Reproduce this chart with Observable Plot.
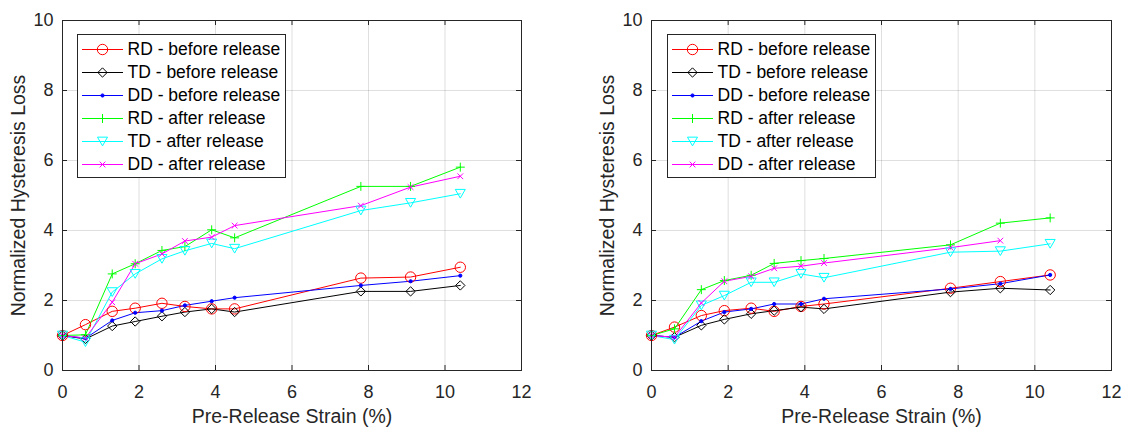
<!DOCTYPE html>
<html><head><meta charset="utf-8">
<script src="https://cdn.jsdelivr.net/npm/d3@7"></script>
<script src="https://cdn.jsdelivr.net/npm/@observablehq/plot@0.6"></script>
<style>
body{margin:0;background:#fff;}
#root{position:relative;width:1124px;height:430px;overflow:hidden;background:#fff;}
.abs{position:absolute;}
</style></head><body><div id="root"></div>
<script>
// ---------- data ----------
const strain = [0, 0.6, 1.3, 1.9, 2.6, 3.2, 3.9, 4.5, 7.8, 9.1, 10.4];
const seriesNames = ["RD - before release", "TD - before release", "DD - before release",
                     "RD - after release", "TD - after release", "DD - after release"];
const xTicks = [0, 2, 4, 6, 8, 10, 12];
const yTicks = [0, 2, 4, 6, 8, 10];
const xLabel = "Pre-Release Strain (%)";
const yLabel = "Normalized Hysteresis Loss";

// left panel
const leftRDBefore = [1.00, 1.31, 1.69, 1.78, 1.92, 1.83, 1.76, 1.76, 2.64, 2.67, 2.95];
const leftTDBefore = [1.00, 0.90, 1.27, 1.40, 1.55, 1.67, 1.76, 1.67, 2.26, 2.26, 2.43];
const leftDDBefore = [1.00, 0.92, 1.43, 1.65, 1.71, 1.86, 1.98, 2.08, 2.43, 2.55, 2.71];
const leftRDAfter  = [1.00, 1.02, 2.76, 3.05, 3.43, 3.54, 4.02, 3.79, 5.26, 5.26, 5.81];
const leftTDAfter  = [1.00, 0.81, 2.24, 2.76, 3.19, 3.42, 3.63, 3.48, 4.57, 4.79, 5.05];
const leftDDAfter  = [1.00, 0.93, 1.95, 3.05, 3.33, 3.70, 3.81, 4.14, 4.71, 5.24, 5.55];

// right panel
const rightRDBefore = [1.00, 1.24, 1.57, 1.71, 1.78, 1.69, 1.83, 1.90, 2.35, 2.54, 2.73];
const rightTDBefore = [1.00, 0.95, 1.29, 1.46, 1.62, 1.71, 1.81, 1.76, 2.24, 2.35, 2.30];
const rightDDBefore = [1.00, 0.95, 1.41, 1.67, 1.76, 1.90, 1.90, 2.05, 2.33, 2.48, 2.73];
const rightRDAfter  = [1.00, 1.19, 2.31, 2.57, 2.72, 3.06, 3.14, 3.20, 3.59, 4.21, 4.36];
const rightTDAfter  = [1.00, 0.88, 1.86, 2.14, 2.52, 2.52, 2.76, 2.65, 3.38, 3.41, 3.62];
const rightDDAfter  = [1.00, 0.95, 1.93, 2.55, 2.69, 2.92, 2.98, 3.07, 3.51, 3.71, null];

// ---------- styles ----------
const FONT = '"Liberation Sans", Arial, Helvetica, sans-serif';
const AXIS_COLOR = "#262626";
const seriesColors = ["#ff0000", "#000000", "#0000ff", "#00ff00", "#00ffff", "#ff00ff"];
const triangleDown = {
  draw(ctx, size) {
    const s = Math.sqrt(size) * 0.6824, u = s * Math.sqrt(3) / 2, h = 1.5 * s;
    ctx.moveTo(0, h / 2);
    ctx.lineTo(-u, -h / 2);
    ctx.lineTo(u, -h / 2);
    ctx.closePath();
  }
};
const seriesStyle = [
  {symbol: "circle", r: 5.2, fill: "none"},
  {symbol: "diamond2", r: 4.2, fill: "none"},
  {symbol: "circle", r: 1.6, fill: "#0000ff"},
  {symbol: "plus", r: 3, fill: "none"},
  {symbol: triangleDown, r: 4.8, fill: "none"},
  {symbol: "times", r: 2.7, fill: "none"}
];

function buildRows(values) {
  const rows = [];
  seriesNames.forEach((name, i) => values[i].forEach((v, j) => {
    if (v != null) rows.push({series: name, strain: strain[j], loss: v});
  }));
  return rows;
}

function panel(values, {width, marginLeft, marginRight}) {
  const H = 430, mt = 20, mb = 60;
  const plotW = width - marginLeft - marginRight, plotH = H - mt - mb;
  const tk = 5;
  const rows = buildRows(values);
  return Plot.plot({
    width, height: H, marginLeft, marginRight, marginTop: mt, marginBottom: mb,
    style: {fontFamily: FONT, fontSize: "18px", color: AXIS_COLOR, background: "white", overflow: "visible"},
    x: {domain: [0, 12], label: null},
    y: {domain: [0, 10], label: null},
    color: {domain: seriesNames, range: seriesColors},
    marks: [
      Plot.gridX(xTicks, {stroke: AXIS_COLOR, strokeOpacity: 0.15}),
      Plot.gridY(yTicks, {stroke: AXIS_COLOR, strokeOpacity: 0.15}),
      Plot.line(rows, {x: "strain", y: "loss", z: "series", stroke: "series", strokeWidth: 1}),
      ...seriesNames.map((name, i) => Plot.dot(rows.filter(d => d.series === name), {
        x: "strain", y: "loss", symbol: seriesStyle[i].symbol, r: seriesStyle[i].r,
        stroke: seriesColors[i], fill: seriesStyle[i].fill, strokeWidth: 1
      })),
      Plot.frame({stroke: AXIS_COLOR, strokeWidth: 1}),
      Plot.tickX(xTicks, {x: d => d, insetTop: plotH - tk, stroke: AXIS_COLOR}),
      Plot.tickX(xTicks, {x: d => d, insetBottom: plotH - tk, stroke: AXIS_COLOR}),
      Plot.tickY(yTicks, {y: d => d, insetRight: plotW - tk, stroke: AXIS_COLOR}),
      Plot.tickY(yTicks, {y: d => d, insetLeft: plotW - tk, stroke: AXIS_COLOR}),
      Plot.axisX(xTicks, {tickSize: 0, tickPadding: 15, label: null, fill: AXIS_COLOR}),
      Plot.axisY(yTicks, {tickSize: 0, tickPadding: 9, label: null, fill: AXIS_COLOR}),
      Plot.text([xLabel], {frameAnchor: "bottom", dy: 46, lineAnchor: "middle", textAnchor: "middle", fontSize: 19.5, fill: AXIS_COLOR}),
      Plot.text([yLabel], {frameAnchor: "left", dx: -44, rotate: -90, textAnchor: "middle", lineAnchor: "middle", fontSize: 19.5, fill: AXIS_COLOR})
    ]
  });
}

function legend() {
  const W = 208, H = 143;
  return Plot.plot({
    width: W, height: H, margin: 0,
    style: {fontFamily: FONT, fontSize: "17.5px", background: "white", overflow: "visible"},
    y: {type: "point", domain: seriesNames, padding: 0, insetTop: 13, insetBottom: 12, axis: null},
    color: {domain: seriesNames, range: seriesColors},
    marks: [
      Plot.frame({stroke: AXIS_COLOR, fill: "white"}),
      Plot.ruleY(seriesNames, {y: d => d, stroke: d => d, strokeWidth: 1, insetLeft: 5, insetRight: W - 46}),
      ...seriesNames.map((name, i) => Plot.dot([name], {
        y: d => d, frameAnchor: "left", dx: 25, symbol: seriesStyle[i].symbol, r: seriesStyle[i].r,
        stroke: seriesColors[i], fill: seriesStyle[i].fill, strokeWidth: 1
      })),
      Plot.text(seriesNames, {y: d => d, text: d => d, frameAnchor: "left", dx: 50, textAnchor: "start", fill: "#000"})
    ]
  });
}

const root = document.getElementById("root");
function place(node, left, top) {
  node.classList.add("abs");
  node.style.left = left + "px";
  node.style.top = top + "px";
  root.appendChild(node);
}
place(panel([leftRDBefore, leftTDBefore, leftDDBefore, leftRDAfter, leftTDAfter, leftDDAfter],
            {width: 590, marginLeft: 62, marginRight: 69}), 0, 0);
place(panel([rightRDBefore, rightTDBefore, rightDDBefore, rightRDAfter, rightTDAfter, rightDDAfter],
            {width: 534, marginLeft: 61, marginRight: 13}), 590, 0);
place(legend(), 77, 34);
place(legend(), 667, 34);
</script>
</body></html>
